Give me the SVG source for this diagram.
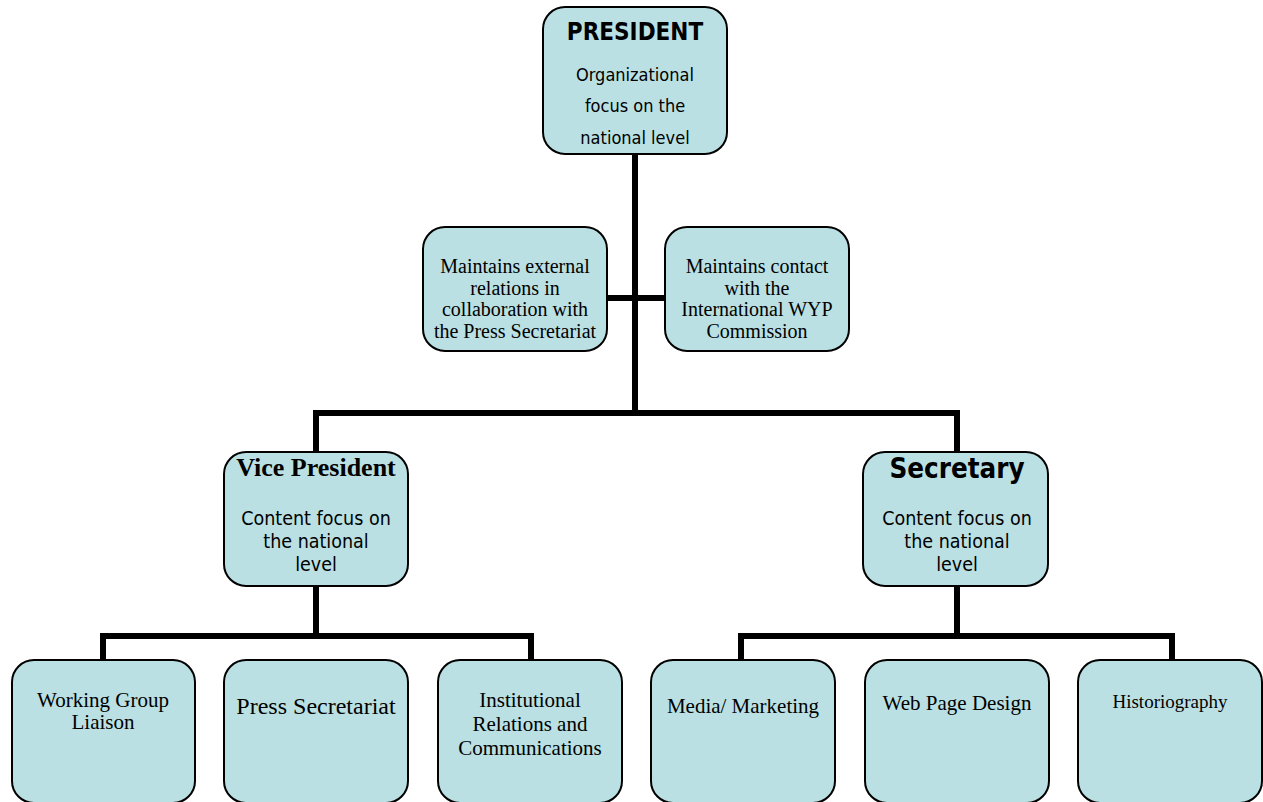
<svg xmlns="http://www.w3.org/2000/svg" width="1263" height="802" viewBox="0 0 1263 802">
<style>
.box{fill:#bae0e3;stroke:#000;stroke-width:2}
.ln{stroke:#000;stroke-width:6;fill:none;stroke-linecap:butt}
.sans{font-family:"DejaVu Sans Condensed","DejaVu Sans",sans-serif;fill:#000;text-anchor:middle}
.serif{font-family:"Liberation Serif","Times New Roman",serif;fill:#000;text-anchor:middle}
.cf{font-size:19.5px}
</style>
<rect width="1263" height="802" fill="#fff"/>
<g id="connectors">
<path class="ln" d="M635 154 V413"/>
<path class="ln" d="M607 298 H665"/>
<path class="ln" d="M316 452 V413 H957 V452"/>
<path class="ln" d="M316 586 V636"/>
<path class="ln" d="M103 660 V636 H531 V660"/>
<path class="ln" d="M957 586 V636"/>
<path class="ln" d="M741 660 V636 H1172 V660"/>
</g>
<g id="president">
<rect class="box" x="543" y="7" width="184" height="147" rx="22"/>
<text class="sans" x="635" y="40" font-size="24" font-weight="bold">PRESIDENT</text>
<text class="sans" x="635" y="81" font-size="18">Organizational</text>
<text class="sans" x="635" y="112" font-size="18">focus on the</text>
<text class="sans" x="635" y="144" font-size="18">national level</text>
</g>
<g id="external">
<rect class="box" x="423" y="227" width="184" height="124" rx="22"/>
<text class="serif" x="515" y="273" font-size="20">Maintains external</text>
<text class="serif" x="515" y="295" font-size="20">relations in</text>
<text class="serif" x="515" y="316" font-size="20">collaboration with</text>
<text class="serif" x="515" y="338" font-size="20">the Press Secretariat</text>
</g>
<g id="contact">
<rect class="box" x="665" y="227" width="184" height="124" rx="22"/>
<text class="serif" x="757" y="273" font-size="20">Maintains contact</text>
<text class="serif" x="757" y="295" font-size="20">with the</text>
<text class="serif" x="757" y="316" font-size="20">International WYP</text>
<text class="serif" x="757" y="338" font-size="20">Commission</text>
</g>
<g id="vice-president">
<rect class="box" x="224" y="452" width="184" height="134" rx="22"/>
<text class="serif" x="316" y="476" font-size="26" font-weight="bold">Vice President</text>
<text class="sans cf" x="316" y="525">Content focus on</text>
<text class="sans cf" x="316" y="548">the national</text>
<text class="sans cf" x="316" y="571">level</text>
</g>
<g id="secretary">
<rect class="box" x="863" y="452" width="185" height="134" rx="22"/>
<text class="sans" x="957" y="478" font-size="27.5" font-weight="bold">Secretary</text>
<text class="sans cf" x="957" y="525">Content focus on</text>
<text class="sans cf" x="957" y="548">the national</text>
<text class="sans cf" x="957" y="571">level</text>
</g>
<g id="working-group">
<rect class="box" x="12" y="660" width="183" height="143" rx="22"/>
<text class="serif" x="103" y="707" font-size="21">Working Group</text>
<text class="serif" x="103" y="729" font-size="21">Liaison</text>
</g>
<g id="press-secretariat">
<rect class="box" x="224" y="660" width="184" height="143" rx="22"/>
<text class="serif" x="316" y="714" font-size="24">Press Secretariat</text>
</g>
<g id="institutional">
<rect class="box" x="438" y="660" width="184" height="143" rx="22"/>
<text class="serif" x="530" y="707" font-size="21">Institutional</text>
<text class="serif" x="530" y="731" font-size="21">Relations and</text>
<text class="serif" x="530" y="755" font-size="21">Communications</text>
</g>
<g id="media">
<rect class="box" x="651" y="660" width="184" height="143" rx="22"/>
<text class="serif" x="743" y="713" font-size="21">Media/ Marketing</text>
</g>
<g id="web">
<rect class="box" x="865" y="660" width="184" height="143" rx="22"/>
<text class="serif" x="957" y="710" font-size="21">Web Page Design</text>
</g>
<g id="historiography">
<rect class="box" x="1078" y="660" width="184" height="143" rx="22"/>
<text class="serif" x="1170" y="708" font-size="19">Historiography</text>
</g>
</svg>
